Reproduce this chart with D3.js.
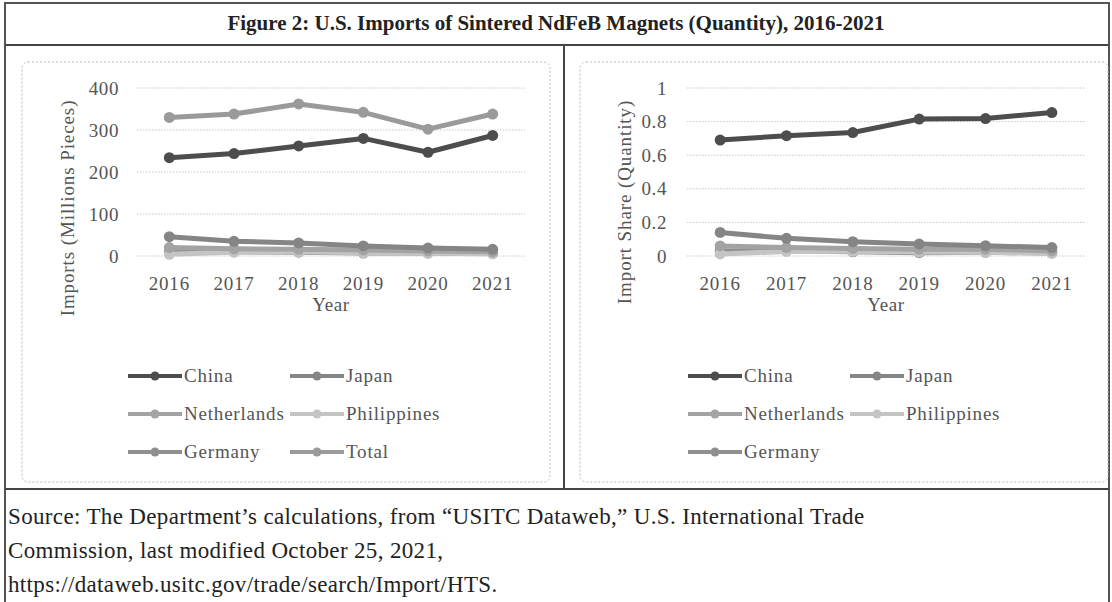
<!DOCTYPE html>
<html>
<head>
<meta charset="utf-8">
<script src="https://cdn.jsdelivr.net/npm/d3@7"></script>
<style>
  body { margin: 0; background: #fff; }
  svg text { font-family: "Liberation Serif", "Times New Roman", serif; fill: #555; }
</style>
</head>
<body>
<svg id="fig" width="1112" height="602"></svg>
<script>
var years = ["2016", "2017", "2018", "2019", "2020", "2021"];

// imports, millions of pieces
var chinaQty = [234, 244, 262, 280, 247, 287];
var japanQty = [46, 35, 31, 24, 19, 16];
var netherlandsQty = [20, 17, 16, 14, 12, 10];
var philippinesQty = [4, 9, 10, 8, 7, 5];
var germanyQty = [10, 10, 9, 7, 7, 6];
var totalQty = [330, 338, 362, 342, 302, 338];

// import share
var chinaShare = [0.69, 0.716, 0.735, 0.815, 0.818, 0.854];
var japanShare = [0.14, 0.105, 0.085, 0.071, 0.061, 0.05];
var netherlandsShare = [0.06, 0.05, 0.045, 0.04, 0.04, 0.03];
var philippinesShare = [0.012, 0.027, 0.028, 0.024, 0.022, 0.015];
var germanyShare = [0.03, 0.03, 0.025, 0.02, 0.022, 0.018];

var qtyTicks = [0, 100, 200, 300, 400];
var shareTicks = [0, 0.2, 0.4, 0.6, 0.8, 1];

var colors = {
  China: "#4d4d4d", Japan: "#858585", Netherlands: "#a3a3a3",
  Philippines: "#c4c4c4", Germany: "#8f8f8f", Total: "#9a9a9a"
};

var svg = d3.select("#fig");

// outer frame
svg.append("rect").attr("x", 5).attr("y", 3).attr("width", 1104).attr("height", 610)
  .attr("fill", "none").attr("stroke", "#555").attr("stroke-width", 2);
svg.append("line").attr("x1", 5).attr("x2", 1109).attr("y1", 45).attr("y2", 45)
  .attr("stroke", "#444").attr("stroke-width", 2);
svg.append("line").attr("x1", 5).attr("x2", 1109).attr("y1", 489).attr("y2", 489)
  .attr("stroke", "#444").attr("stroke-width", 2);
svg.append("line").attr("x1", 564).attr("x2", 564).attr("y1", 45).attr("y2", 489)
  .attr("stroke", "#444").attr("stroke-width", 2);

svg.append("text").attr("x", 556).attr("y", 30).attr("text-anchor", "middle")
  .style("font-size", "21px").style("font-weight", "bold").style("fill", "#222")
  .text("Figure 2: U.S. Imports of Sintered NdFeB Magnets (Quantity), 2016-2021");

// inner chart boxes
[[22, 550], [580, 1108]].forEach(function(b) {
  svg.append("rect").attr("x", b[0]).attr("y", 62).attr("width", b[1] - b[0]).attr("height", 420)
    .attr("rx", 6).attr("fill", "none").attr("stroke", "#bbb")
    .attr("stroke-dasharray", "2,2");
});

function drawPanel(opt) {
  var x = d3.scaleBand().domain(years).range([opt.x0, opt.x1]);
  var y = d3.scaleLinear().domain(opt.domain).range([256, 88]);
  var g = svg.append("g");

  g.append("g").selectAll("line").data(opt.ticks).enter().append("line")
    .attr("x1", opt.x0).attr("x2", opt.x1)
    .attr("y1", function(d) { return y(d); }).attr("y2", function(d) { return y(d); })
    .attr("stroke", "#c8c8c8").attr("stroke-dasharray", "1.5,1.5");

  var yAxis = g.append("g").attr("transform", "translate(" + opt.x0 + ",0)")
    .call(d3.axisLeft(y).tickValues(opt.ticks).tickSize(0).tickPadding(opt.pad).tickFormat(d3.format("~g")));
  yAxis.select(".domain").remove();
  yAxis.selectAll("text").style("font-size", "19px").style("letter-spacing", "0.6px").attr("font-family", null);

  var xAxis = g.append("g").attr("transform", "translate(0,271)")
    .call(d3.axisBottom(x).tickSize(0).tickPadding(6));
  xAxis.select(".domain").remove();
  xAxis.selectAll("text").style("font-size", "19px").style("letter-spacing", "0.8px").attr("font-family", null);

  g.append("text").attr("x", (opt.x0 + opt.x1) / 2).attr("y", 311).attr("text-anchor", "middle")
    .style("font-size", "19px").style("letter-spacing", "0.6px").text("Year");
  g.append("text").attr("transform", "translate(" + opt.titleX + "," + opt.titleY + ") rotate(-90)")
    .attr("text-anchor", "middle").style("font-size", "19px").style("letter-spacing", "0.9px").text(opt.title);

  var line = d3.line().x(function(d, i) { return x(years[i]) + x.bandwidth() / 2; })
    .y(function(d) { return y(d); });

  opt.series.slice().reverse().forEach(function(s) {
    g.append("path").datum(s.values).attr("d", line).attr("fill", "none")
      .attr("stroke", colors[s.name]).attr("stroke-width", 5).attr("stroke-linejoin", "round");
    g.selectAll(null).data(s.values).enter().append("circle")
      .attr("cx", function(d, i) { return x(years[i]) + x.bandwidth() / 2; })
      .attr("cy", function(d) { return y(d); })
      .attr("r", 5.5).attr("fill", colors[s.name]);
  });

  // legend
  var rows = [376, 414, 452];
  opt.series.forEach(function(s, i) {
    var col = i % 2, row = Math.floor(i / 2);
    var lx = opt.legX[col], ly = rows[row];
    var lg = g.append("g");
    lg.append("line").attr("x1", lx).attr("x2", lx + 54).attr("y1", ly).attr("y2", ly)
      .attr("stroke", colors[s.name]).attr("stroke-width", 4);
    lg.append("circle").attr("cx", lx + 27).attr("cy", ly).attr("r", 4.5).attr("fill", colors[s.name]);
    lg.append("text").attr("x", lx + 56).attr("y", ly + 6).style("font-size", "19px")
      .style("letter-spacing", "0.8px").text(s.name);
  });
}

drawPanel({
  x0: 137, x1: 525, domain: [0, 400], ticks: qtyTicks, pad: 18,
  title: "Imports (Millions Pieces)", titleX: 74, titleY: 208, legX: [128, 290],
  series: [
    { name: "China", values: chinaQty },
    { name: "Japan", values: japanQty },
    { name: "Netherlands", values: netherlandsQty },
    { name: "Philippines", values: philippinesQty },
    { name: "Germany", values: germanyQty },
    { name: "Total", values: totalQty }
  ]
});

drawPanel({
  x0: 687, x1: 1085, domain: [0, 1], ticks: shareTicks, pad: 20,
  title: "Import Share (Quantity)", titleX: 631, titleY: 202, legX: [688, 850],
  series: [
    { name: "China", values: chinaShare },
    { name: "Japan", values: japanShare },
    { name: "Netherlands", values: netherlandsShare },
    { name: "Philippines", values: philippinesShare },
    { name: "Germany", values: germanyShare }
  ]
});

// source note
var notes = [
  "Source: The Department\u2019s calculations, from \u201cUSITC Dataweb,\u201d U.S. International Trade",
  "Commission, last modified October 25, 2021,",
  "https://dataweb.usitc.gov/trade/search/Import/HTS."
];
svg.append("g").selectAll("text").data(notes).enter().append("text")
  .attr("x", 8).attr("y", function(d, i) { return 524 + i * 34; })
  .style("font-size", "23px").style("letter-spacing", "0.35px").style("fill", "#222")
  .text(function(d) { return d; });
</script>
</body>
</html>
